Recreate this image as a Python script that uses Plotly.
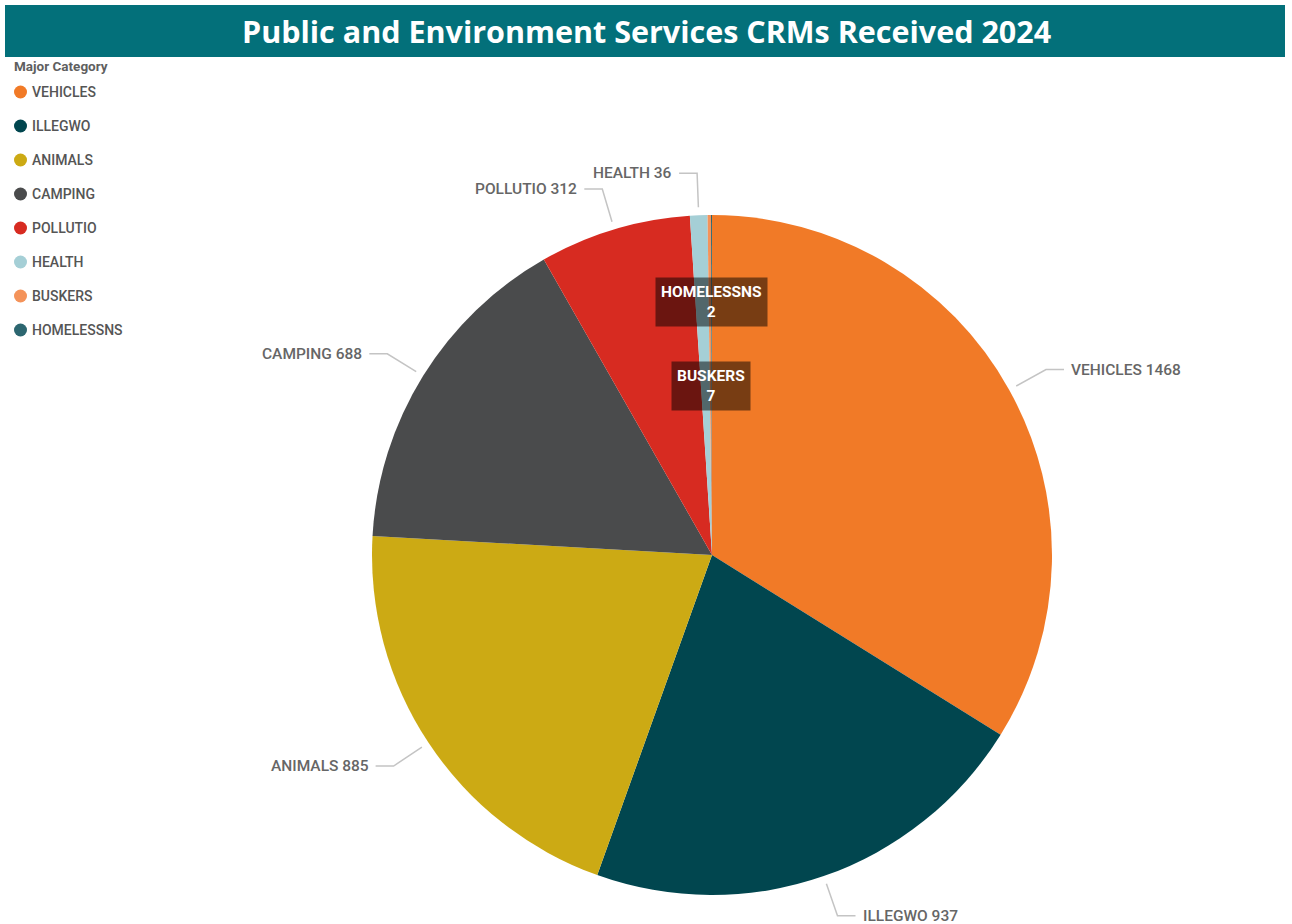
import math
import plotly.graph_objects as go

# Page size in pixels
W, H = 1292, 924

# Data
categories = ["VEHICLES", "ILLEGWO", "ANIMALS", "CAMPING", "POLLUTIO", "HEALTH", "BUSKERS", "HOMELESSNS"]
counts = [1468, 937, 885, 688, 312, 36, 7, 2]
colors = ["#F17A27", "#01464F", "#CCAA14", "#4A4B4C", "#D72B21", "#A5CFD6", "#F4935A", "#2C6670"]
outside_labels = ["VEHICLES", "ILLEGWO", "ANIMALS", "CAMPING", "POLLUTIO", "HEALTH"]
inside_labels = ["HOMELESSNS", "BUSKERS"]

title_text = "Public and Environment Services CRMs Received 2024"
legend_title = "Major Category"

# Pie geometry (pixels)
cx, cy, R = 712, 555, 340

fig = go.Figure()

fig.add_trace(go.Pie(
    labels=categories,
    values=counts,
    marker=dict(colors=colors, line=dict(width=0)),
    sort=False,
    direction="clockwise",
    rotation=0,
    textinfo="none",
    hoverinfo="label+value",
    showlegend=False,
    domain=dict(x=[(cx - R) / W, (cx + R) / W], y=[1 - (cy + R) / H, 1 - (cy - R) / H]),
))

# Invisible pixel-space trace so the cartesian axes exist for the overlay
fig.add_trace(go.Scatter(x=[None], y=[None], showlegend=False, hoverinfo="skip"))

total = sum(counts)
mid_angle = {}
acc = 0
for cat, v in zip(categories, counts):
    mid_angle[cat] = 2 * math.pi * (acc + v / 2) / total
    acc += v

label_font = dict(family="Roboto", size=15.5, color="#666666", weight=500)
annotations = []
shapes = []

# Outside labels with elbow leader lines
r1, r2, hseg = 348, 382, 18
for cat, v in zip(categories, counts):
    if cat not in outside_labels:
        continue
    a = mid_angle[cat]
    s, c = math.sin(a), math.cos(a)
    x1, y1 = cx + r1 * s, cy - r1 * c
    x2, y2 = cx + r2 * s, cy - r2 * c
    side = 1 if s >= 0 else -1
    x3 = x2 + side * hseg
    shapes.append(dict(type="path", xref="x", yref="y",
                       path=f"M {x1:.1f},{y1:.1f} L {x2:.1f},{y2:.1f} L {x3:.1f},{y2:.1f}",
                       line=dict(color="#C4C4C4", width=1.5)))
    annotations.append(dict(x=x3 + side * 5, y=y2, xref="x", yref="y",
                            text=f"{cat} {v}", showarrow=False,
                            xanchor="left" if side > 0 else "right", yanchor="middle",
                            font=label_font))

# Labels for the thin slices, drawn over the pie in dark boxes
inside_radius = {"HOMELESSNS": 253, "BUSKERS": 169}
for cat, v in zip(categories, counts):
    if cat not in inside_labels:
        continue
    a = mid_angle[cat]
    rr = inside_radius[cat]
    annotations.append(dict(x=cx + rr * math.sin(a), y=cy - rr * math.cos(a), xref="x", yref="y",
                            text=f"<b>{cat}</b><br><b>{v}</b>", showarrow=False,
                            xanchor="center", yanchor="middle", align="center",
                            bgcolor="rgba(0,0,0,0.5)", borderpad=5,
                            font=dict(family="Roboto", size=15.5, color="white")))

# Title bar
shapes.append(dict(type="rect", xref="x", yref="y", x0=5, x1=W - 7, y0=5, y1=57,
                   fillcolor="#03707A", line=dict(width=0), layer="below"))
annotations.append(dict(x=W / 2, y=31, xref="x", yref="y", text=f"<b>{title_text}</b>",
                        showarrow=False, xanchor="center", yanchor="middle",
                        font=dict(family="Open Sans", size=30.5, color="white")))

# Legend drawn as circles and labels
annotations.append(dict(x=12, y=66, xref="x", yref="y", text=f"<b>{legend_title}</b>",
                        showarrow=False, xanchor="left", yanchor="middle",
                        font=dict(family="Roboto", size=13.5, color="#5F5F5F")))
for i, (cat, col) in enumerate(zip(categories, colors)):
    yy = 92 + 34 * i
    shapes.append(dict(type="circle", xref="x", yref="y", x0=14, x1=27, y0=yy - 6.5, y1=yy + 6.5,
                       fillcolor=col, line=dict(width=0)))
    annotations.append(dict(x=30, y=yy, xref="x", yref="y", text=cat, showarrow=False,
                            xanchor="left", yanchor="middle",
                            font=dict(family="Roboto", size=14, color="#555555", weight=500)))

fig.update_layout(
    width=W, height=H,
    margin=dict(l=0, r=0, t=0, b=0),
    paper_bgcolor="white", plot_bgcolor="rgba(0,0,0,0)",
    xaxis=dict(range=[0, W], visible=False, fixedrange=True),
    yaxis=dict(range=[H, 0], visible=False, fixedrange=True),
    shapes=shapes,
    annotations=annotations,
)

fig.write_html("out.html")
